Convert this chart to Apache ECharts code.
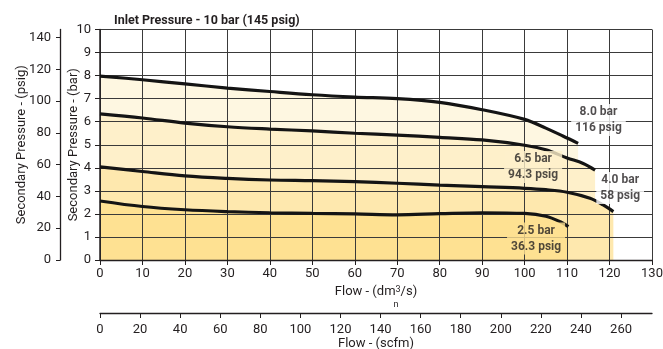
<!DOCTYPE html>
<html>
<head>
<meta charset="utf-8">
<script src="https://cdn.jsdelivr.net/npm/echarts@6/dist/echarts.min.js"></script>
<style>
html,body{margin:0;padding:0;background:#fff;}
#wrap{position:relative;width:663px;height:349px;}
.layer{position:absolute;left:0;top:0;width:663px;height:349px;}
</style>
</head>
<body>
<div id="wrap">
  <div id="fills" class="layer"></div>
  <div id="grid" class="layer"></div>
  <div id="main" class="layer"></div>
</div>
<script>
// ---- data ----
const title = 'Inlet Pressure - 10 bar (145 psig)';
const psigTicks = [0,20,40,60,80,100,120,140];
const scfmTicks = [0,20,40,60,80,100,120,140,160,180,200,220,240,260];

const flow80 = [0,10,20,30,40,50,60,70,80,90,100,105,109,112.6];
const bar80  = [7.98,7.82,7.64,7.46,7.31,7.17,7.07,7.0,6.84,6.52,6.1,5.72,5.38,5.06];

const flow65 = [0,10,20,30,40,50,60,70,80,90,100,105,110,113.8,116.6];
const bar65  = [6.34,6.16,5.94,5.78,5.68,5.6,5.5,5.42,5.32,5.21,4.98,4.78,4.43,4.19,3.9];

const flow40 = [0,10,20,30,40,50,60,70,80,90,100,105,110,115.4,118.5,120.9];
const bar40  = [4.04,3.84,3.65,3.54,3.47,3.44,3.40,3.33,3.25,3.18,3.11,3.05,2.94,2.68,2.39,2.10];

const flow25 = [0,10,20,30,40,50,60,70,80,90,100,105,108.4,110.3];
const bar25  = [2.56,2.32,2.18,2.1,2.05,2.02,2.0,1.96,2.01,2.05,2.02,1.9,1.66,1.45];

const curveLabels = ['8.0 bar\n116 psig','6.5 bar\n94.3 psig','4.0 bar\n58 psig','2.5 bar\n36.3 psig'];

// ---- conversions ----
const BAR_TO_PSIG = 14.5038;
const DM3S_TO_SCFM = 2.11888;

// ---- build ----
const FONT = "Roboto,'DejaVu Sans Condensed',sans-serif";
const GRIDCOL = '#3a3a3a';
const CLEAR = 'rgba(0,0,0,0)';
const zip = (xs, ys) => xs.map((x, i) => [x, ys[i]]);
const curves = [
  {d: zip(flow80, bar80), fill: '#FEF7E1'},
  {d: zip(flow65, bar65), fill: '#FEF0CA'},
  {d: zip(flow40, bar40), fill: '#FEE8AE'},
  {d: zip(flow25, bar25), fill: '#FEE192'}
];
const labelSpots = [
  {pos: [117.4, 6.07], bg: '#ffffff'},
  {pos: [102.0, 4.03], bg: '#FEF0CA'},
  {pos: [122.5, 3.12], bg: '#ffffff'},
  {pos: [102.7, 0.93], bg: '#FEE192'}
];
const gridRect = {left: 100, right: 11, top: 29.5, bottom: 89, outerBoundsMode: 'none'};
const labelStyle = {fontFamily: FONT, fontSize: 13, color: '#231f20'};

// ---------- layer 1: area fills ----------
const fillsOption = {
  animation: false,
  backgroundColor: '#ffffff',
  grid: Object.assign({}, gridRect),
  xAxis: {type: 'value', min: 0, max: 130, interval: 10,
    axisLine: {show: false, onZero: false}, axisTick: {show: false}, axisLabel: {show: false}, splitLine: {show: false}},
  yAxis: {type: 'value', min: 0, max: 10, interval: 1,
    axisLine: {show: false, onZero: false}, axisTick: {show: false}, axisLabel: {show: false}, splitLine: {show: false}},
  series: curves.map((c, i) => ({
    type: 'line', data: c.d, smooth: 0.35, showSymbol: false, silent: true,
    lineStyle: {color: c.fill, width: 0}, itemStyle: {color: c.fill},
    areaStyle: {color: c.fill, opacity: 1}, z: 1 + i
  }))
};

// ---------- layer 2: grid lines (axis split lines) ----------
const gridOption = {
  animation: false,
  backgroundColor: CLEAR,
  grid: Object.assign({}, gridRect),
  xAxis: [{type: 'value', min: 0, max: 130, interval: 10,
    axisLine: {onZero: false, lineStyle: {color: CLEAR}}, axisTick: {lineStyle: {color: CLEAR}},
    axisLabel: {color: CLEAR},
    splitLine: {show: true, lineStyle: {color: GRIDCOL, width: 1}}}],
  yAxis: [{type: 'value', min: 0, max: 10, interval: 1,
    axisLine: {onZero: false, lineStyle: {color: CLEAR}}, axisTick: {lineStyle: {color: CLEAR}},
    axisLabel: {color: CLEAR},
    splitLine: {show: true, lineStyle: {color: GRIDCOL, width: 1}}}],
  series: [{type: 'line', data: curves[0].d, showSymbol: false, silent: true,
    lineStyle: {color: CLEAR}, itemStyle: {color: CLEAR}}]
};

// ---------- layer 3: curves, labels, axes, title ----------
const series = [];
curves.forEach((c) => {
  series.push({
    type: 'line', data: c.d, smooth: 0.35, showSymbol: false, silent: true,
    lineStyle: {width: 3.2, color: '#141414'}, itemStyle: {color: '#141414'},
    z: 4, xAxisIndex: 0, yAxisIndex: 0
  });
});
labelSpots.forEach((s, i) => {
  series.push({
    type: 'scatter', data: [s.pos], symbolSize: 0, silent: true, z: 6,
    xAxisIndex: 0, yAxisIndex: 0,
    label: {
      show: true, position: 'inside', formatter: curveLabels[i],
      fontFamily: FONT, fontWeight: 'bold', fontSize: 12, color: '#231f20',
      lineHeight: 16, align: 'center', verticalAlign: 'middle',
      backgroundColor: s.bg, padding: [0, 4]
    }
  });
});

const mainOption = {
  animation: false,
  backgroundColor: CLEAR,
  title: {
    text: title, left: 109, top: 9,
    textStyle: {fontFamily: FONT, fontSize: 12.5, fontWeight: 'bold', color: '#231f20'}
  },
  grid: Object.assign({}, gridRect),
  xAxis: [
    {
      type: 'value', min: 0, max: 130, interval: 10, position: 'bottom',
      axisLine: {show: true, onZero: false, lineStyle: {color: '#231f20', width: 1.3}},
      axisTick: {show: true, length: 5, lineStyle: {color: '#231f20'}},
      axisLabel: Object.assign({margin: 7}, labelStyle),
      splitLine: {show: false},
      name: '{a|Flow - (dm}{s|3}{a|/s)}\n{n|n}', nameLocation: 'middle', nameGap: 25, nameMoveOverlap: false,
      nameTextStyle: {
        fontFamily: FONT, color: '#231f20',
        rich: {
          a: {fontFamily: FONT, fontSize: 13, color: '#231f20', lineHeight: 14},
          s: {fontFamily: FONT, fontSize: 9, color: '#231f20', verticalAlign: 'top', lineHeight: 14, padding: [0,0,6,0]},
          n: {fontFamily: FONT, fontSize: 9, color: '#231f20', lineHeight: 11, padding: [0,0,0,40]}
        }
      }
    },
    {
      type: 'value', min: 0, max: 130 * DM3S_TO_SCFM, position: 'bottom', offset: 53,
      axisLine: {show: true, onZero: false, lineStyle: {color: '#231f20', width: 1.3}},
      axisTick: {show: true, length: 5, lineStyle: {color: '#231f20'}, customValues: scfmTicks},
      axisLabel: Object.assign({margin: 10, customValues: scfmTicks}, labelStyle),
      splitLine: {show: false},
      name: 'Flow - (scfm)', nameLocation: 'middle', nameGap: 24, nameMoveOverlap: false,
      nameTextStyle: {fontFamily: FONT, fontSize: 13, color: '#231f20'}
    }
  ],
  yAxis: [
    {
      type: 'value', min: 0, max: 10, interval: 1, position: 'left',
      axisLine: {show: true, onZero: false, lineStyle: {color: '#231f20', width: 1.5}},
      axisTick: {show: true, length: 5, lineStyle: {color: '#231f20'}},
      axisLabel: Object.assign({margin: 9}, labelStyle),
      splitLine: {show: false},
      name: 'Secondary Pressure - (bar)', nameLocation: 'middle', nameGap: 20, nameRotate: 90, nameMoveOverlap: false,
      nameTextStyle: {fontFamily: FONT, fontSize: 13, color: '#231f20'}
    },
    {
      type: 'value', min: 0, max: 10 * BAR_TO_PSIG, position: 'left', offset: 40,
      axisLine: {show: true, onZero: false, lineStyle: {color: '#231f20', width: 1.3}},
      axisTick: {show: true, length: 4, lineStyle: {color: '#231f20'}, customValues: psigTicks},
      axisLabel: Object.assign({margin: 9, customValues: psigTicks}, labelStyle),
      splitLine: {show: false},
      name: 'Secondary Pressure - (psig)', nameLocation: 'middle', nameGap: 32, nameRotate: 90, nameMoveOverlap: false,
      nameTextStyle: {fontFamily: FONT, fontSize: 13, color: '#231f20'}
    }
  ],
  series: series
};

echarts.init(document.getElementById('fills'), null, {renderer: 'canvas'}).setOption(fillsOption);
echarts.init(document.getElementById('grid'), null, {renderer: 'canvas'}).setOption(gridOption);
echarts.init(document.getElementById('main'), null, {renderer: 'canvas'}).setOption(mainOption);
</script>
</body>
</html>
